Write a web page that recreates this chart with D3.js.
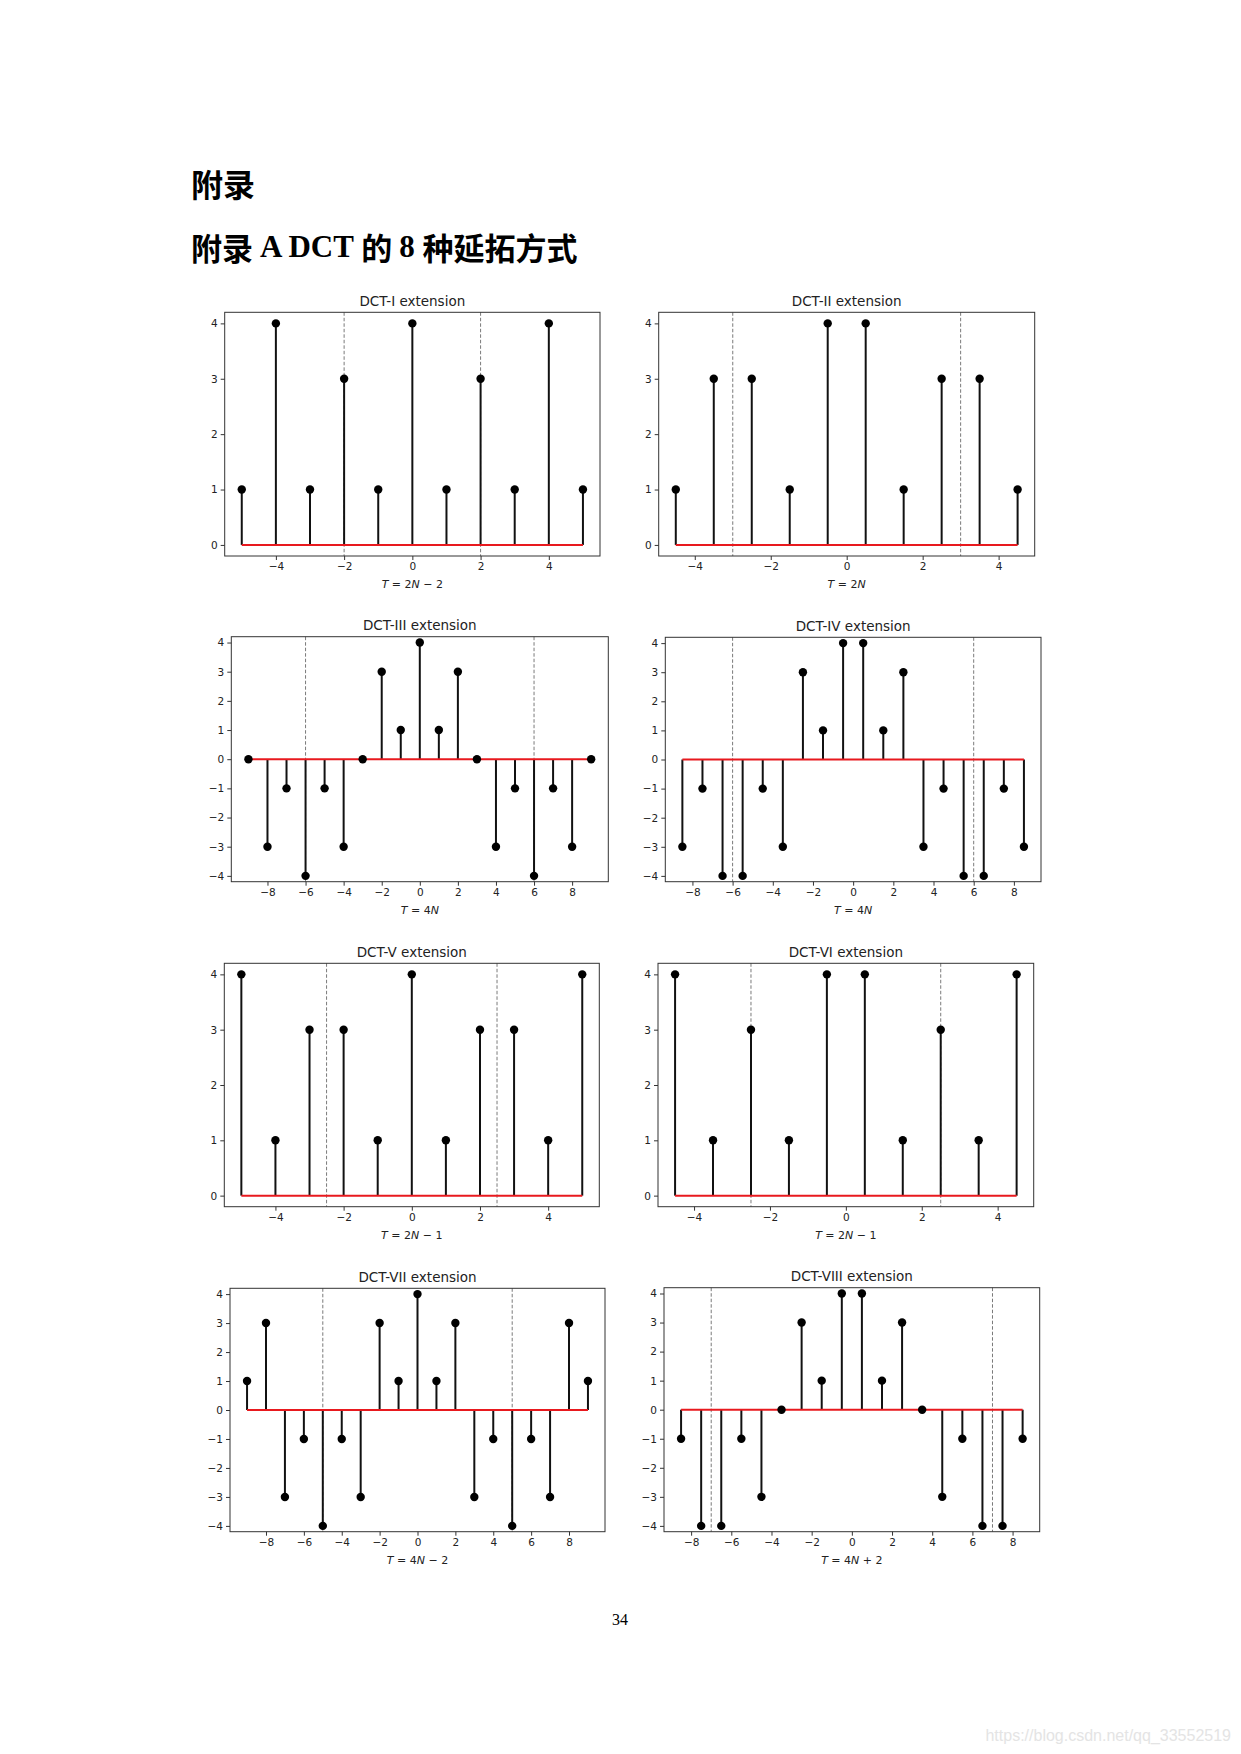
<!DOCTYPE html>
<html>
<head>
<meta charset="utf-8">
<script src="https://cdn.jsdelivr.net/npm/d3@7"></script>
<style>
  body { margin: 0; background: #fff; }
  svg { display: block; }
</style>
</head>
<body>
<svg id="page" width="1241" height="1754"></svg>
<script>
// sample positions and values
const dct1X = [-5, -4, -3, -2, -1, 0, 1, 2, 3, 4, 5];
const dct1Y = [1, 4, 1, 3, 1, 4, 1, 3, 1, 4, 1];
const dct2X = [-4.5, -3.5, -2.5, -1.5, -0.5, 0.5, 1.5, 2.5, 3.5, 4.5];
const dct2Y = [1, 3, 3, 1, 4, 4, 1, 3, 3, 1];
const dct3X = [-9, -8, -7, -6, -5, -4, -3, -2, -1, 0, 1, 2, 3, 4, 5, 6, 7, 8, 9];
const dct3Y = [0, -3, -1, -4, -1, -3, 0, 3, 1, 4, 1, 3, 0, -3, -1, -4, -1, -3, 0];
const dct4X = [-8.5, -7.5, -6.5, -5.5, -4.5, -3.5, -2.5, -1.5, -0.5, 0.5, 1.5, 2.5, 3.5, 4.5, 5.5, 6.5, 7.5, 8.5];
const dct4Y = [-3, -1, -4, -4, -1, -3, 3, 1, 4, 4, 1, 3, -3, -1, -4, -4, -1, -3];
const dct5X = [-5, -4, -3, -2, -1, 0, 1, 2, 3, 4, 5];
const dct5Y = [4, 1, 3, 3, 1, 4, 1, 3, 3, 1, 4];
const dct6X = [-4.5, -3.5, -2.5, -1.5, -0.5, 0.5, 1.5, 2.5, 3.5, 4.5];
const dct6Y = [4, 1, 3, 1, 4, 4, 1, 3, 1, 4];
const dct7X = [-9, -8, -7, -6, -5, -4, -3, -2, -1, 0, 1, 2, 3, 4, 5, 6, 7, 8, 9];
const dct7Y = [1, 3, -3, -1, -4, -1, -3, 3, 1, 4, 1, 3, -3, -1, -4, -1, -3, 3, 1];
const dct8X = [-8.5, -7.5, -6.5, -5.5, -4.5, -3.5, -2.5, -1.5, -0.5, 0.5, 1.5, 2.5, 3.5, 4.5, 5.5, 6.5, 7.5, 8.5];
const dct8Y = [-1, -4, -4, -1, -3, 0, 3, 1, 4, 4, 1, 3, 0, -3, -1, -4, -4, -1];

// period boundaries (dashed lines)
const dct1Bounds = [-2, 2];
const dct2Bounds = [-3, 3];
const dct3Bounds = [-6, 6];
const dct4Bounds = [-6, 6];
const dct5Bounds = [-2.5, 2.5];
const dct6Bounds = [-2.5, 2.5];
const dct7Bounds = [-5, 5];
const dct8Bounds = [-7, 7];

const titles = ["DCT-I extension", "DCT-II extension", "DCT-III extension", "DCT-IV extension",
                "DCT-V extension", "DCT-VI extension", "DCT-VII extension", "DCT-VIII extension"];
// period labels, split into [text, italic] pieces
const periodLabels = [
  [["T", 1], [" = 2", 0], ["N", 1], [" \u2212 2", 0]],
  [["T", 1], [" = 2", 0], ["N", 1]],
  [["T", 1], [" = 4", 0], ["N", 1]],
  [["T", 1], [" = 4", 0], ["N", 1]],
  [["T", 1], [" = 2", 0], ["N", 1], [" \u2212 1", 0]],
  [["T", 1], [" = 2", 0], ["N", 1], [" \u2212 1", 0]],
  [["T", 1], [" = 4", 0], ["N", 1], [" \u2212 2", 0]],
  [["T", 1], [" = 4", 0], ["N", 1], [" + 2", 0]]
];

const xTicksShort = [-4, -2, 0, 2, 4];
const xTicksLong = [-8, -6, -4, -2, 0, 2, 4, 6, 8];
const yTicksPos = [0, 1, 2, 3, 4];
const yTicksFull = [-4, -3, -2, -1, 0, 1, 2, 3, 4];

// axes boxes on the page [left, top, right, bottom]
const boxes = [
  [224.7, 312.3, 600, 556], [658.7, 312.3, 1034.7, 556],
  [231.3, 636.7, 608.3, 881.7], [665.3, 637.3, 1041, 881.7],
  [224.3, 963.3, 599.3, 1206.7], [658, 963.3, 1033.7, 1206.7],
  [230, 1288.3, 605, 1531.7], [664, 1287.7, 1039.7, 1531.7]
];

const panels = [
  {xs: dct1X, ys: dct1Y, bounds: dct1Bounds, xt: xTicksShort, yt: yTicksPos},
  {xs: dct2X, ys: dct2Y, bounds: dct2Bounds, xt: xTicksShort, yt: yTicksPos},
  {xs: dct3X, ys: dct3Y, bounds: dct3Bounds, xt: xTicksLong, yt: yTicksFull},
  {xs: dct4X, ys: dct4Y, bounds: dct4Bounds, xt: xTicksLong, yt: yTicksFull},
  {xs: dct5X, ys: dct5Y, bounds: dct5Bounds, xt: xTicksShort, yt: yTicksPos},
  {xs: dct6X, ys: dct6Y, bounds: dct6Bounds, xt: xTicksShort, yt: yTicksPos},
  {xs: dct7X, ys: dct7Y, bounds: dct7Bounds, xt: xTicksLong, yt: yTicksFull},
  {xs: dct8X, ys: dct8Y, bounds: dct8Bounds, xt: xTicksLong, yt: yTicksFull}
];

const svg = d3.select("#page");
const cjk = "'Noto Sans CJK SC', sans-serif";
const serif = "'Liberation Serif', 'DejaVu Serif', serif";
const mpl = "'DejaVu Sans', sans-serif";

// headings
svg.append("text")
  .attr("x", 191).attr("y", 183)
  .attr("dominant-baseline", "central")
  .style("font-family", cjk).style("font-weight", "bold").style("font-size", "32px")
  .text("附录");

const h2 = svg.append("text")
  .attr("x", 191).attr("y", 246)
  .attr("dominant-baseline", "central")
  .style("font-weight", "bold").style("font-size", "31px");
[["附录 ", cjk], ["A DCT ", serif], ["的 ", cjk], ["8 ", serif], ["种延拓方式", cjk]].forEach(function(p) {
  h2.append("tspan").style("font-family", p[1]).text(p[0]);
});

function drawPanel(p, i) {
  const b = boxes[i];
  const ext = d3.extent(p.xs);
  const pad = (ext[1] - ext[0]) * 0.05;
  const x = d3.scaleLinear().domain([ext[0] - pad, ext[1] + pad]).range([b[0], b[2]]);
  const yMin = Math.min(0, d3.min(p.ys)), yMax = d3.max(p.ys);
  const y = d3.scaleLinear().domain([yMin - 0.2, yMax + 0.2]).range([b[3], b[1]]);
  const g = svg.append("g").attr("class", "panel");

  // period boundaries
  g.selectAll("line.bound").data(p.bounds).enter().append("line")
    .attr("class", "bound")
    .attr("x1", d => x(d)).attr("x2", d => x(d))
    .attr("y1", b[1]).attr("y2", b[3])
    .attr("stroke", "#7a7a7a").attr("stroke-width", 1).attr("stroke-dasharray", "3.5,2");

  const pts = p.xs.map((t, k) => ({t: t, v: p.ys[k]}));
  g.selectAll("line.stem").data(pts).enter().append("line")
    .attr("class", "stem")
    .attr("x1", d => x(d.t)).attr("x2", d => x(d.t))
    .attr("y1", y(0)).attr("y2", d => y(d.v))
    .attr("stroke", "#111").attr("stroke-width", 2);

  g.append("line")
    .attr("x1", x(ext[0])).attr("x2", x(ext[1]))
    .attr("y1", y(0)).attr("y2", y(0))
    .attr("stroke", "#e8191e").attr("stroke-width", 2);

  g.selectAll("circle").data(pts).enter().append("circle")
    .attr("cx", d => x(d.t)).attr("cy", d => y(d.v)).attr("r", 4.2)
    .attr("fill", "#000");

  // frame
  g.append("rect")
    .attr("x", b[0]).attr("y", b[1]).attr("width", b[2] - b[0]).attr("height", b[3] - b[1])
    .attr("fill", "none").attr("stroke", "#333").attr("stroke-width", 1);

  const fmt = d3.format("d");
  const xa = g.append("g").attr("transform", "translate(0," + b[3] + ")")
    .call(d3.axisBottom(x).tickValues(p.xt).tickFormat(fmt).tickSize(4).tickPadding(3));
  const ya = g.append("g").attr("transform", "translate(" + b[0] + ",0)")
    .call(d3.axisLeft(y).tickValues(p.yt).tickFormat(fmt).tickSize(4).tickPadding(3));
  [xa, ya].forEach(function(a) {
    a.select(".domain").remove();
    a.selectAll("line").attr("stroke", "#333");
    a.selectAll("text").style("font-family", mpl).style("font-size", "10.5px").attr("fill", "#222");
  });

  const cx = (b[0] + b[2]) / 2;
  g.append("text")
    .attr("x", cx).attr("y", b[1] - 11.5)
    .attr("text-anchor", "middle").attr("dominant-baseline", "central")
    .style("font-family", mpl).style("font-size", "13.5px").attr("fill", "#222")
    .text(titles[i]);

  const xl = g.append("text")
    .attr("x", cx).attr("y", b[3] + 28)
    .attr("text-anchor", "middle").attr("dominant-baseline", "central")
    .style("font-family", mpl).style("font-size", "11px").attr("fill", "#222");
  periodLabels[i].forEach(function(s) {
    xl.append("tspan").style("font-style", s[1] ? "italic" : "normal").text(s[0]);
  });
}

panels.forEach(drawPanel);

// page number
svg.append("text")
  .attr("x", 620).attr("y", 1619)
  .attr("text-anchor", "middle").attr("dominant-baseline", "central")
  .style("font-family", serif).style("font-size", "16px")
  .text("34");

// watermark
svg.append("text")
  .attr("x", 1231).attr("y", 1735)
  .attr("text-anchor", "end").attr("dominant-baseline", "central")
  .style("font-family", "'Liberation Sans', Arial, sans-serif").style("font-size", "16px")
  .attr("fill", "#e4e4e4")
  .text("https://blog.csdn.net/qq_33552519");
</script>
</body>
</html>
